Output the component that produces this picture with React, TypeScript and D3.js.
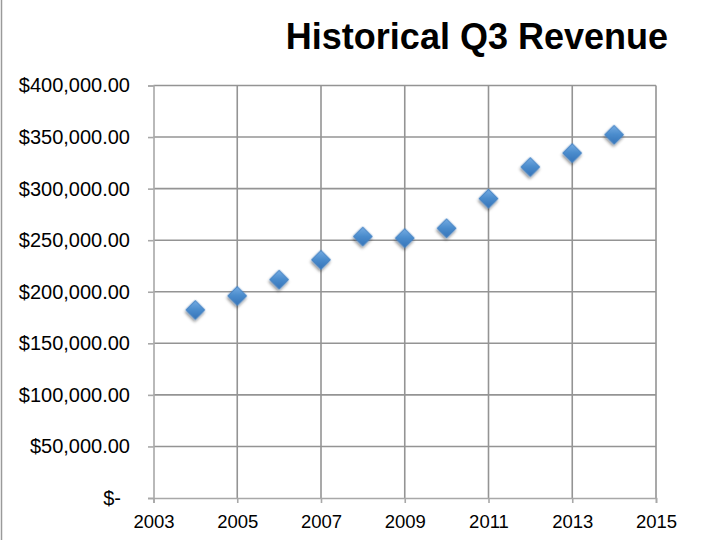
import { useEffect, useRef } from 'react';
import * as d3 from 'd3';

const years = [2004, 2005, 2006, 2007, 2008, 2009, 2010, 2011, 2012, 2013, 2014];
const revenue = [182400, 196000, 211800, 231000, 253600, 252000, 261600, 290300, 321000, 334500, 352300];
const xTicks = [2003, 2005, 2007, 2009, 2011, 2013, 2015];
const yTicks = [0, 50000, 100000, 150000, 200000, 250000, 300000, 350000, 400000];

const W = 704;
const H = 540;
const FONT = '"Liberation Sans", Arial, Helvetica, sans-serif';

function App() {
  const svgRef = useRef(null);

  useEffect(() => {
    const svg = d3.select(svgRef.current);

    const x = d3.scaleLinear().domain([2003, 2015]).range([153.5, 656]);
    const y = d3.scaleLinear().domain([0, 400000]).range([498, 85.5]);

    // grid
    const grid = svg.select('#grid');
    grid
      .selectAll('line.h')
      .data(yTicks.slice(1))
      .join('line')
      .attr('class', 'h')
      .attr('x1', x(2003))
      .attr('x2', x(2015))
      .attr('y1', d => y(d))
      .attr('y2', d => y(d))
      .attr('stroke', '#949494')
      .attr('stroke-width', 1.6);
    grid
      .selectAll('line.v')
      .data(xTicks.slice(1))
      .join('line')
      .attr('class', 'v')
      .attr('x1', d => x(d))
      .attr('x2', d => x(d))
      .attr('y1', y(400000))
      .attr('y2', y(0))
      .attr('stroke', '#949494')
      .attr('stroke-width', 1.6);

    const money = d3.format(',.2f');

    const yAxis = svg
      .select('#y-axis')
      .attr('transform', `translate(${x(2003)},0)`)
      .call(
        d3
          .axisLeft(y)
          .tickValues(yTicks)
          .tickSize(5.5)
          .tickPadding(18)
          .tickFormat(d => (d === 0 ? '$-' : '$' + money(d)))
      );
    yAxis.select('.domain').attr('stroke', '#a8a8a8').attr('stroke-width', 1.6);
    yAxis.selectAll('.tick line').attr('stroke', '#a8a8a8').attr('stroke-width', 1.6);
    yAxis
      .selectAll('.tick text')
      .attr('font-family', FONT)
      .attr('font-size', 20)
      .attr('fill', '#000')
      .attr('dx', d => (d === 0 ? -9 : 0));

    const xAxis = svg
      .select('#x-axis')
      .attr('transform', `translate(0,${y(0)})`)
      .call(
        d3
          .axisBottom(x)
          .tickValues(xTicks)
          .tickSize(5)
          .tickPadding(12)
          .tickFormat(d3.format('d'))
      );
    xAxis.select('.domain').attr('stroke', '#a8a8a8').attr('stroke-width', 1.6);
    xAxis.selectAll('.tick line').attr('stroke', '#a8a8a8').attr('stroke-width', 1.6);
    xAxis
      .selectAll('.tick text')
      .attr('font-family', FONT)
      .attr('font-size', 18.5)
      .attr('fill', '#000');
    svg.selectAll('.domain').attr('d', function () {
      return d3.select(this).attr('d');
    });

    // markers
    const diamond = d3.symbol(d3.symbolSquare, 180)();
    svg
      .select('#points')
      .selectAll('path')
      .data(years.map((yr, i) => ({ yr, v: revenue[i] })))
      .join('path')
      .attr('d', diamond)
      .attr('transform', d => `translate(${x(d.yr)},${y(d.v)}) rotate(45)`)
      .attr('fill', 'url(#mk)')
      .attr('stroke', '#4182c4')
      .attr('stroke-width', 1)
      .attr('stroke-linejoin', 'round')
      .attr('filter', 'url(#shadow)');
  }, []);

  return (
    <svg
      ref={svgRef}
      width={W}
      height={H}
      style={{ position: 'absolute', left: 0, top: 0, background: '#fff' }}
    >
      <defs>
        <linearGradient id="mk" x1="0" y1="0" x2="1" y2="1">
          <stop offset="0" stopColor="#74ace2" />
          <stop offset="0.5" stopColor="#4a8bcc" />
          <stop offset="1" stopColor="#3574b8" />
        </linearGradient>
        <filter id="shadow" x="-50%" y="-50%" width="200%" height="200%">
          <feDropShadow dx="1" dy="2" stdDeviation="1.6" floodColor="#000" floodOpacity="0.45" />
        </filter>
      </defs>
      <rect width={W} height={H} fill="#fff" />
      <line x1={1.5} x2={1.5} y1={0} y2={H} stroke="#9a9a9a" strokeWidth={1.5} />
      <text
        x={668}
        y={49}
        textAnchor="end"
        fontFamily={FONT}
        fontWeight="bold"
        fontSize={36}
        fill="#000"
      >
        Historical Q3 Revenue
      </text>
      <g id="grid" />
      <g id="x-axis" />
      <g id="y-axis" />
      <g id="points" />
    </svg>
  );
}

export default App;
